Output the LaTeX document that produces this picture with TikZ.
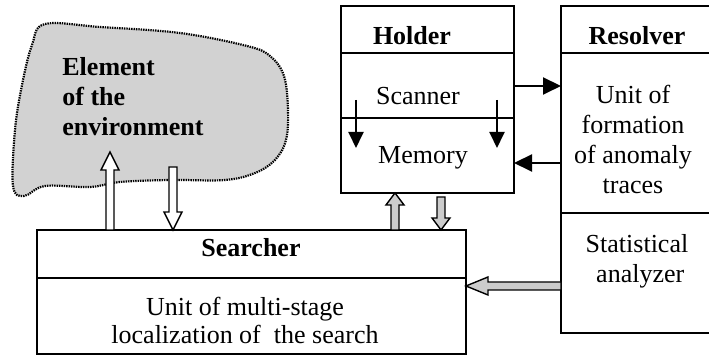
\documentclass[tikz,border=0pt]{standalone}
\usepackage{fontspec}
\setmainfont{Liberation Serif}
\usetikzlibrary{arrows.meta,calc}
\tikzset{
  box/.style={draw, line width=1pt, anchor=north west, inner sep=0pt, outer sep=0pt},
  lbl/.style={anchor=base, inner sep=0pt, font=\fontsize{13pt}{15pt}\selectfont, align=center},
  ttl/.style={lbl, font=\fontsize{13pt}{15pt}\selectfont\bfseries},
  arr/.style={line width=1pt, -{Triangle[length=9pt,width=8.5pt]}},
  smallarr/.style={line width=1pt, -{Triangle[length=8pt,width=7.5pt]}},
  blockarr/.style={line width=0.7pt, line join=miter},
  blob/.style={fill=gray!35, draw, line width=1.1pt, dash pattern=on 0.7pt off 0.5pt}
}
\newcommand\blockarrow[4]{%
  \coordinate (bah) at ($(#2)!#4!(#1)$);
  \draw[blockarr, fill=#3] ($(#1)!2pt!90:(#2)$) -- ($(bah)!2pt!90:(#2)$) -- ($(bah)!4.5pt!90:(#2)$) -- (#2) -- ($(bah)!4.5pt!-90:(#2)$) -- ($(bah)!2pt!-90:(#2)$) -- ($(#1)!2pt!-90:(#2)$) -- cycle;
}
\begin{document}
\begin{tikzpicture}[x=0.5pt,y=-0.5pt]
\useasboundingbox (0,0) rectangle (709,356);
\clip (0,0) rectangle (709,356);
\fill[white] (0,0) rectangle (709,356);

% environment blob
\draw[blob] plot[smooth cycle, tension=0.6] coordinates {
 (45,24) (100,27) (180,33) (247,46) (270,56) (284,76) (288,110) (286,140) (275,160)
 (255,173) (225,180) (170,180) (120,182) (90,187) (45,186) (24,196) (13,186) (15,130) (22,85) (32,45)};
\node[anchor=base west, inner sep=0pt, align=left, font=\fontsize{13pt}{15pt}\selectfont\bfseries] (env) at (62,136) {Element\\of the\\environment};

% boxes
\node[box, minimum width=86.5pt, minimum height=93.5pt] (H) at (341,6) {};
\node[box, minimum width=77pt, minimum height=163.5pt] (R) at (561,6) {};
\node[box, minimum width=214.5pt, minimum height=62pt] (S) at (37,230) {};

% dividers
\draw[line width=1pt] ($(H.north west)+(0,47)$) -- ($(H.north east)+(0,47)$);
\draw[line width=1pt] ($(H.north west)+(0,112)$) -- ($(H.north east)+(0,112)$);
\draw[line width=1pt] ($(R.north west)+(0,47)$) -- ($(R.north east)+(0,47)$);
\draw[line width=1pt] ($(R.north west)+(0,207)$) -- ($(R.north east)+(0,207)$);
\draw[line width=1pt] ($(S.north west)+(0,48)$) -- ($(S.north east)+(0,48)$);

% texts
\node[ttl] (holder) at (412,45) {Holder};
\node[lbl] (scanner) at (418,105) {Scanner};
\node[lbl] (memory) at (423,164) {Memory};
\node[ttl] (resolver) at (637,45) {Resolver};
\node[lbl] (unit) at (633,194) {Unit of\\formation\\of anomaly\\traces};
\node[lbl] (stat) at (637,283) {Statistical\\\ analyzer};
\node[ttl] (searcher) at (251,257) {Searcher};
\node[lbl, font=\fontsize{13pt}{14pt}\selectfont] (loc) at (245,344) {Unit of multi-stage\\localization of~ the search};

% black arrows
\coordinate (hr) at (0,86);
\coordinate (rm) at (0,163);
\draw[arr] (H.east |- hr) -- (R.west |- hr);
\draw[arr] (R.west |- rm) -- (H.east |- rm);
\coordinate (i1a) at (356,100); \coordinate (i1b) at (356,148);
\coordinate (i2a) at (497,100); \coordinate (i2b) at (497,148);
\draw[smallarr] (i1a) -- (i1b);
\draw[smallarr] (i2a) -- (i2b);

% block arrows
\coordinate (e1a) at (110,230); \coordinate (e1b) at (110,152);
\coordinate (e2a) at (173,167); \coordinate (e2b) at (173,230);
\coordinate (h1a) at (395,230); \coordinate (h1b) at (395,193);
\coordinate (h2a) at (441,197); \coordinate (h2b) at (441,230);
\coordinate (r1a) at (561,286); \coordinate (r1b) at (466,286);
\blockarrow{e1a}{e1b}{white}{9pt}
\blockarrow{e2a}{e2b}{white}{9pt}
\blockarrow{h1a}{h1b}{gray!40}{6pt}
\blockarrow{h2a}{h2b}{gray!40}{6pt}
\blockarrow{r1a}{r1b}{gray!40}{11pt}
\end{tikzpicture}
\end{document}
